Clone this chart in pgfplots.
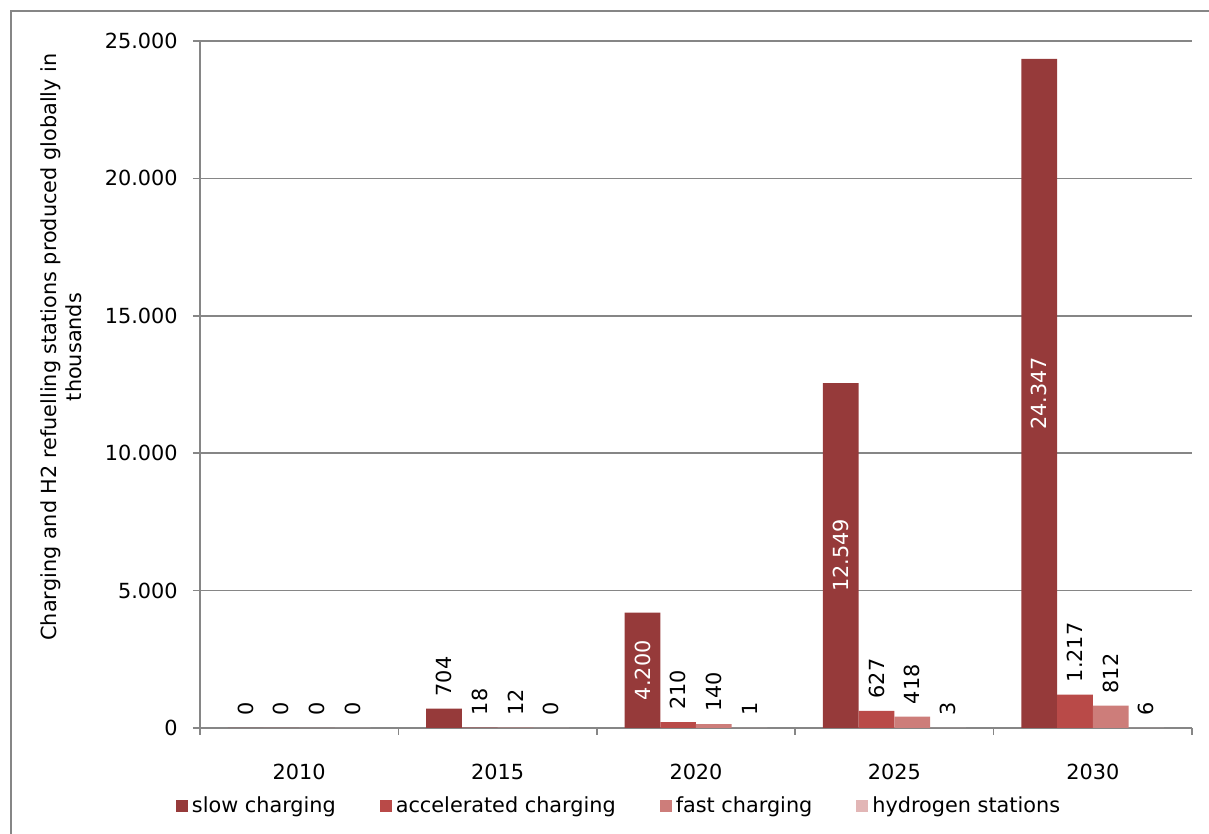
\documentclass[border=0pt]{standalone}
\usepackage{pgfplots}
\pgfplotsset{compat=1.18}
\usepackage{pgfplotstable}
\usepackage{fontspec}
\setmainfont{DejaVu Sans}
\definecolor{slowc}{RGB}{150,58,58}
\definecolor{accc}{RGB}{185,74,72}
\definecolor{fastc}{RGB}{205,125,122}
\definecolor{hydc}{RGB}{226,182,182}
\definecolor{frameg}{RGB}{134,134,134}

\pgfplotstableread{
x y lbl
0 0 0
1 704 704
2 4200 4.200
3 12549 12.549
4 24347 24.347
}\slow
\pgfplotstableread{
x y lbl
0 0 0
1 18 18
2 210 210
3 627 627
4 1217 1.217
}\acc
\pgfplotstableread{
x y lbl
0 0 0
1 12 12
2 140 140
3 418 418
4 812 812
}\fast
\pgfplotstableread{
x y lbl
0 0 0
1 0 0
2 1 1
3 3 3
4 6 6
}\hyd

\begin{document}
\fontsize{10.4pt}{12.5pt}\selectfont
\begin{tikzpicture}
\useasboundingbox (-100pt,-53pt) rectangle (504.5pt,364pt);
\draw[frameg, line width=0.75pt] (-94.5pt,-60pt) -- (-94.5pt,358.5pt) -- (520pt,358.5pt);
\begin{axis}[
  at={(0pt,0pt)}, anchor=south west,
  scale only axis, width=496pt, height=343.5pt,
  ybar=0pt, bar width=0.18,
  xmin=-0.5, xmax=4.5, ymin=0, ymax=25000,
  axis lines*=left,
  axis line style={frameg, line width=0.75pt},
  ymajorgrids, grid style={frameg, line width=0.8pt},
  ytick={0,5000,10000,15000,20000,25000},
  scaled y ticks=false,
  /pgf/number format/assume math mode=true,
  /pgf/number format/1000 sep={.},
  tick align=outside,
  major tick length=3.5pt,
  tick style={frameg, line width=0.75pt},
  xtick={-0.5,0.5,1.5,2.5,3.5,4.5}, xticklabels={,,,,,},
  extra x ticks={0,1,2,3,4}, extra x tick labels={2010,2015,2020,2025,2030},
  extra x tick style={major tick length=0pt, tick style={draw=none}, xticklabel style={yshift=-14.5pt}},
  yticklabel style={xshift=-4pt},
  ylabel={Charging and H2 refuelling stations produced globally in\\thousands},
  ylabel style={align=center, at={(axis description cs:-0.1396,0.5545)}, anchor=center},
  legend style={at={(axis description cs:0.4234,-0.1135)}, anchor=center, legend columns=4, draw=none, fill=none,
    /tikz/every even column/.append style={column sep=20pt}},
  legend image code/.code={\fill[#1,draw=none] (0pt,-3pt) rectangle (6pt,3pt);},
]
\addplot[fill=slowc, draw=none, bar shift=-0.27] table[x=x,y=y]{\slow};
\addlegendentry{slow charging}
\addplot[fill=accc, draw=none, bar shift=-0.09, nodes near coords, point meta=explicit symbolic,
  nodes near coords style={rotate=90, anchor=west, black, inner xsep=6pt, inner ysep=0pt}] table[x=x,y=y,meta=lbl]{\acc};
\addlegendentry{accelerated charging}
\addplot[fill=fastc, draw=none, bar shift=0.09, nodes near coords, point meta=explicit symbolic,
  nodes near coords style={rotate=90, anchor=west, black, inner xsep=6pt, inner ysep=0pt}] table[x=x,y=y,meta=lbl]{\fast};
\addlegendentry{fast charging}
\addplot[fill=hydc, draw=none, bar shift=0.27, nodes near coords, point meta=explicit symbolic,
  nodes near coords style={rotate=90, anchor=west, black, inner xsep=6pt, inner ysep=0pt}] table[x=x,y=y,meta=lbl]{\hyd};
\addlegendentry{hydrogen stations}
\addplot[draw=none, fill=none, bar shift=-0.27, forget plot, restrict x to domain=0:1,
  nodes near coords, point meta=explicit symbolic,
  nodes near coords style={rotate=90, anchor=west, black, inner xsep=6pt, inner ysep=0pt}] table[x=x,y=y,meta=lbl]{\slow};
\addplot[draw=none, fill=none, bar shift=-0.27, forget plot, restrict x to domain=2:4,
  nodes near coords, point meta=explicit symbolic,
  nodes near coords style={rotate=90, anchor=center, white, inner sep=0pt}] table[x=x,y expr=\thisrow{y}/2,meta=lbl]{\slow};
\end{axis}
\end{tikzpicture}
\end{document}
